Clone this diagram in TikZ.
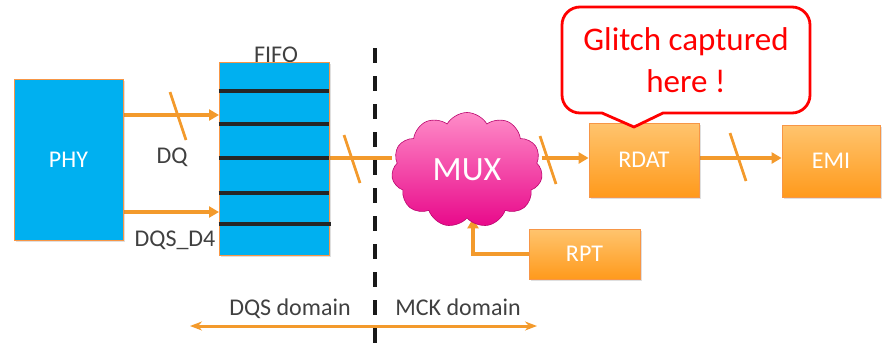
\documentclass[tikz,border=0pt]{standalone}
\usepackage{fontspec}
\setmainfont{Carlito}
\usetikzlibrary{shapes.symbols,arrows.meta,shadows,backgrounds}

\definecolor{phyblue}{HTML}{00B0F0}
\definecolor{wire}{HTML}{F39A2C}
\definecolor{boxedge}{HTML}{F79646}
\definecolor{lighto}{HTML}{FFC46E}
\definecolor{darko}{HTML}{FF9A1C}
\definecolor{muxtop}{HTML}{FF8CC8}
\definecolor{muxbot}{HTML}{E8088A}
\definecolor{txtgray}{HTML}{404040}
\definecolor{alertred}{HTML}{FF0000}

\tikzset{
  blockshadow/.style={drop shadow={opacity=0.25,shadow xshift=2pt,shadow yshift=-2pt}},
  phybox/.style={draw=boxedge,fill=phyblue,line width=0.8pt,inner sep=0pt,blockshadow,
    text=white,font=\fontsize{24}{28}\selectfont},
  orangebox/.style={draw=boxedge,top color=lighto,bottom color=darko,line width=0.8pt,
    inner sep=0pt,blockshadow,text=white,font=\fontsize{24}{28}\selectfont},
  lbl/.style={text=txtgray,inner sep=0pt,font=\fontsize{24}{28}\selectfont},
  flow/.style={draw=wire,line width=3.5pt,-{Triangle[length=10pt,width=11pt]}},
  plainflow/.style={draw=wire,line width=3.5pt},
  busline/.style={draw=wire,line width=2.8pt},
  fifoline/.style={draw=black!85,line width=4pt},
  domainline/.style={draw=wire,line width=3pt,{Stealth[length=12pt,width=9pt]}-{Stealth[length=12pt,width=9pt]}},
}

\newcommand{\busmark}[1]{\draw[busline] (#1) +(-8,-24) -- +(8,24);}

\begin{document}
\begin{tikzpicture}[x=1pt,y=-1pt]
  \useasboundingbox (0,0) rectangle (883,351);

% blocks
  \node[phybox,minimum width=109pt,minimum height=161pt] (phy) at (68.5,159.5) {PHY};
  \node[lbl,anchor=base] (fifolabel) at (276,62) {FIFO};
  \node[phybox,minimum width=110pt,minimum height=193pt] (fifo) at (274,158.5) {};
  \foreach \r in {91,124,158,193} {
    \draw[fifoline] (fifo.west |- 0,\r) -- (fifo.east |- 0,\r);
  }
  \draw[fifoline] (fifo.west |- 0,224) -- ([xshift=2pt]fifo.east |- 0,224);

  \node[cloud,cloud puffs=11,cloud puff arc=120,aspect=1.3,draw=muxbot!80!black,line width=0.6pt,
        top color=muxtop,bottom color=muxbot,minimum width=151pt,minimum height=115pt,
        inner sep=0pt,text=white,font=\fontsize{34}{38}\selectfont] (mux) at (467,170) {MUX};
  \node[orangebox,minimum width=110pt,minimum height=74pt] (rdat) at (644,160) {RDAT};
  \node[orangebox,minimum width=98pt,minimum height=72pt] (emi) at (831,161) {EMI};
  \node[orangebox,minimum width=111pt,minimum height=50pt] (rpt) at (584.5,254) {RPT};

% wires
  \coordinate (row) at (0,158);
  \coordinate (dqin) at (219,115);
  \coordinate (dqsin) at (219,212);
  \begin{pgfonlayer}{background}
    \draw[flow] (phy.east |- dqin) -- (dqin);
    \draw[flow] (phy.east |- dqsin) -- (dqsin);
    \draw[plainflow] (fifo.east |- row) -- (mux.west |- row);
    \draw[flow] (mux.east |- row) -- (rdat.west |- row);
    \draw[flow] (rdat.east |- row) -- (emi.west |- row);
    \draw[flow] (rpt.west) -| ([xshift=6pt]mux.south);
    \busmark{178,116}
    \busmark{352,159}
    \busmark{548,160}
    \busmark{738,157}
  \end{pgfonlayer}
  \node[lbl,anchor=base] (dq) at (172,163) {DQ};
  \node[lbl,anchor=base] (dqs) at (175,246) {DQS\_D4};

% clock domains
  \coordinate (dl) at (190,326);
  \coordinate (dr) at (537,326);
  \draw[domainline] (dl) -- (dr);
  \node[lbl,anchor=base] (dqsdom) at (290,315) {DQS domain};
  \node[lbl,anchor=base] (mckdom) at (458,315) {MCK domain};
  \coordinate (cuttop) at (375,48);
  \coordinate (cutbot) at (375,351);
  \draw[black!90,line width=4pt,dash pattern=on 15pt off 13pt] (cuttop) -- (cutbot);

% callout
  \draw[draw=alertred,fill=white,line width=2.8pt,line join=round]
    (634,127) -- (663,113) [rounded corners=18pt] -- (810,113) -- (810,7) -- (562,7)
    -- (562,113) [sharp corners] -- (602,113) -- cycle;
  \node[text=alertred,align=center,inner sep=0pt,font=\fontsize{33}{42}\selectfont] (glitch)
    at (686,60) {Glitch captured\\here !};

\end{tikzpicture}
\end{document}
